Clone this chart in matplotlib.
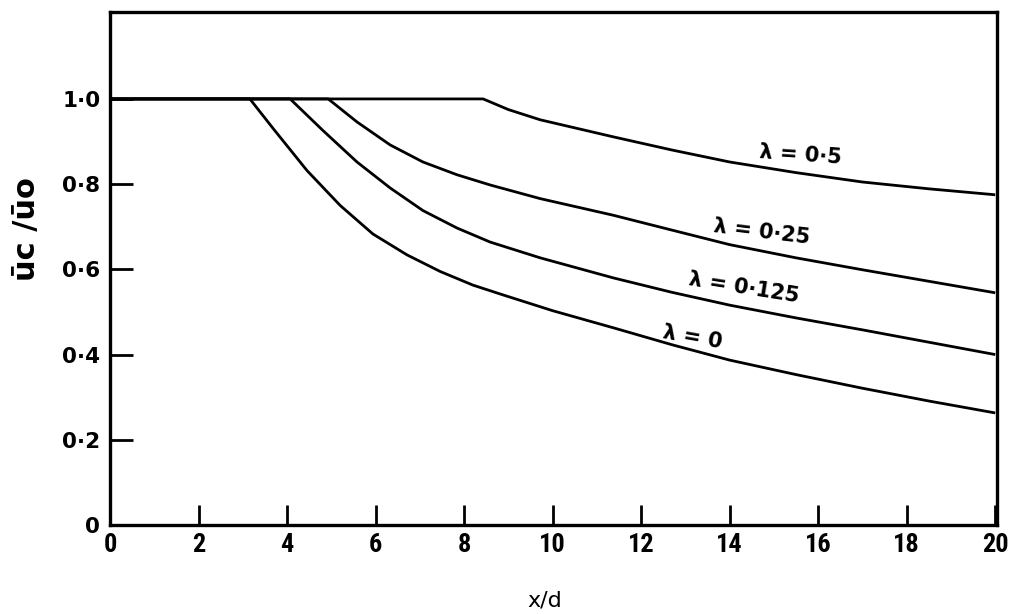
import matplotlib
matplotlib.use("Agg")
import matplotlib.pyplot as plt
from matplotlib import font_manager

# Centre-line velocity decay
x_lam0 = [0, 3.16, 3.69, 4.45, 5.2, 5.94, 6.71, 7.46, 8.2, 8.88, 10.0, 11.4, 12.7, 14.0, 15.5, 17.0, 18.5, 20.0]
u_lam0 = [1.0, 1.0, 0.93, 0.832, 0.75, 0.683, 0.634, 0.595, 0.563, 0.54, 0.503, 0.462, 0.423, 0.387, 0.353, 0.321, 0.291, 0.263]

x_lam0125 = [0, 4.07, 4.82, 5.58, 6.33, 7.07, 7.84, 8.59, 9.72, 11.37, 12.7, 14.0, 15.5, 17.0, 18.5, 20.0]
u_lam0125 = [1.0, 1.0, 0.925, 0.852, 0.791, 0.738, 0.697, 0.664, 0.627, 0.58, 0.546, 0.516, 0.486, 0.458, 0.429, 0.40]

x_lam025 = [0, 4.93, 5.58, 6.33, 7.07, 7.84, 8.59, 9.72, 11.37, 12.7, 14.0, 15.5, 17.0, 18.5, 20.0]
u_lam025 = [1.0, 1.0, 0.946, 0.892, 0.852, 0.822, 0.798, 0.766, 0.727, 0.692, 0.658, 0.627, 0.599, 0.572, 0.545]

x_lam05 = [0, 8.43, 9.0, 9.72, 11.37, 12.7, 14.0, 15.5, 17.0, 18.5, 20.0]
u_lam05 = [1.0, 1.0, 0.975, 0.951, 0.911, 0.88, 0.852, 0.827, 0.805, 0.789, 0.775]

curve_labels = ["λ = 0", "λ = 0·125", "λ = 0·25", "λ = 0·5"]
label_x = [13.15, 14.33, 14.73, 15.6]
label_y = [0.441, 0.556, 0.688, 0.868]
label_rot = [-10, -9, -7, -4]

x_ticks = [0, 2, 4, 6, 8, 10, 12, 14, 16, 18, 20]
y_ticks = [0, 0.2, 0.4, 0.6, 0.8, 1.0]
y_tick_labels = ["0", "0·2", "0·4", "0·6", "0·8", "1·0"]


def narrow_font():
    # x tick numbers in the scan are tall and narrow
    names = {f.name for f in font_manager.fontManager.ttflist}
    for n in ["Liberation Sans Narrow", "DejaVu Sans Condensed", "Roboto Condensed"]:
        if n in names:
            return n, 19
    return "DejaVu Sans", 12.5


def main():
    fig = plt.figure(figsize=(10.09, 6.14), dpi=100)
    ax = fig.add_axes([110 / 1009, 1 - 525 / 614, 887 / 1009, 513 / 614])

    series = [(x_lam0, u_lam0), (x_lam0125, u_lam0125), (x_lam025, u_lam025), (x_lam05, u_lam05)]
    for xs, us in series:
        ax.plot(xs, us, color="black", lw=2.0, solid_joinstyle="round", solid_capstyle="butt")

    for txt, lx, ly, rot in zip(curve_labels, label_x, label_y, label_rot):
        ax.text(lx, ly, txt, fontsize=15, fontweight="bold", rotation=rot,
                ha="center", va="center", family="DejaVu Sans")

    ax.set_xlim(0, 20.04)
    ax.set_ylim(0, 1.204)

    fam, size = narrow_font()
    ax.set_xticks(x_ticks)
    ax.set_xticklabels([str(t) for t in x_ticks], family=fam, fontsize=size, fontweight="bold")
    ax.set_yticks(y_ticks)
    ax.set_yticklabels(y_tick_labels, fontsize=15.5, fontweight="bold")

    ax.tick_params(axis="x", direction="in", length=14.5, width=2.0, pad=6)
    ax.tick_params(axis="y", direction="in", length=16.5, width=2.0, pad=7)

    for sp in ax.spines.values():
        sp.set_linewidth(2.4)

    fig.text(27 / 1009, 1 - 229 / 614, "ūc /ūo", rotation=90, fontsize=22,
             fontweight="bold", ha="center", va="center")
    fig.text(545 / 1009, 1 - 600 / 614, "x/d", fontsize=16, ha="center", va="center")

    fig.savefig("out.png", dpi=100)


if __name__ == "__main__":
    main()
